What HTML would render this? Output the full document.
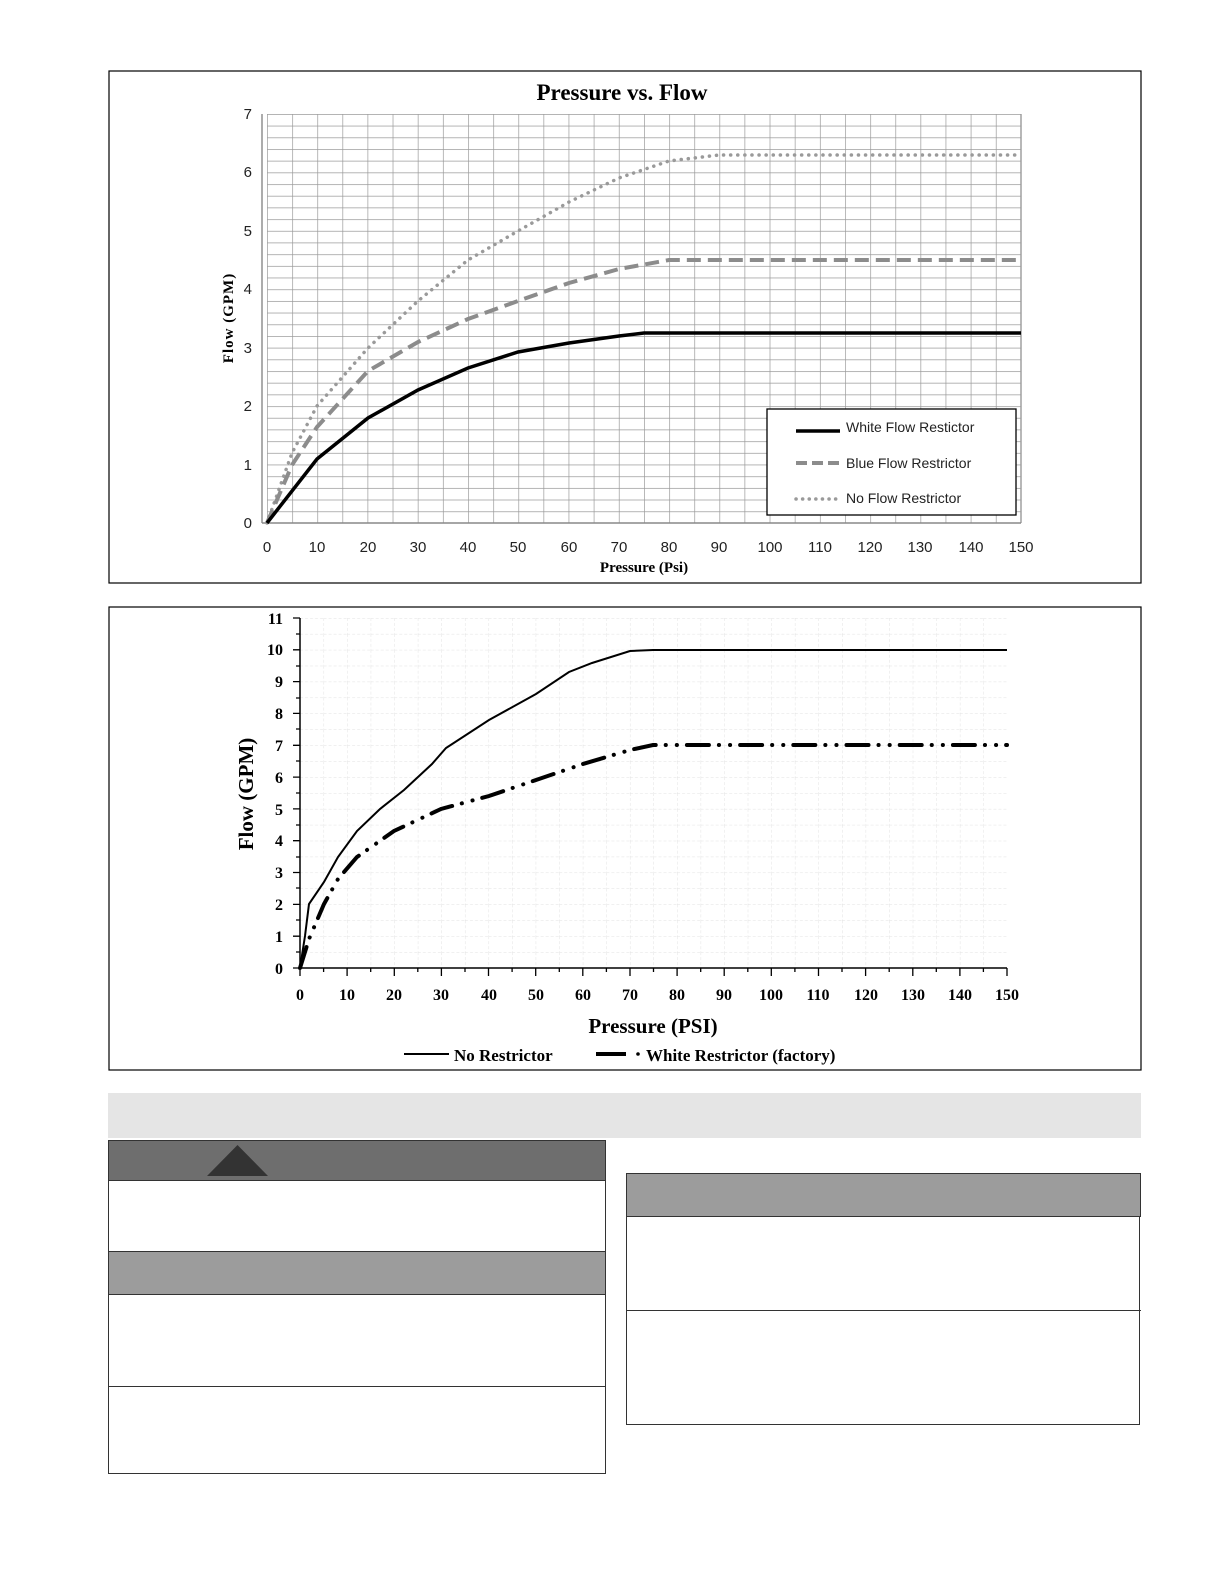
<!DOCTYPE html>
<html style="overflow:hidden"><head><style>
html,body{margin:0;padding:0;overflow:hidden}
body{background:#fff;width:1224px;height:1584px;position:relative;font-family:"Liberation Serif",serif}
svg{display:block}
</style></head><body>
<svg width="1224" height="1584" style="position:absolute;left:0;top:0">
<defs>
<pattern id="g1" patternUnits="userSpaceOnUse" x="267" y="114" width="25.133" height="11.686">
<path d="M0 0V11.686M0 0H25.133" stroke="#9a9a9a" stroke-width="1.4" fill="none"/>
</pattern>
<pattern id="g2" patternUnits="userSpaceOnUse" x="300" y="618" width="23.567" height="15.91">
<path d="M0 0V15.91M0 0H23.567" stroke="#e2e2e2" stroke-width="1" stroke-dasharray="3,2" fill="none"/>
</pattern>
</defs>
<rect x="109" y="71" width="1032" height="512" fill="#fff" stroke="#000" stroke-width="1.2"/>
<rect x="267" y="114" width="754" height="409" fill="url(#g1)"/>
<line x1="1021" y1="114" x2="1021" y2="523" stroke="#9a9a9a" stroke-width="1.4"/>
<line x1="262" y1="523" x2="1021" y2="523" stroke="#888" stroke-width="1.4"/>
<line x1="262" y1="114" x2="262" y2="523" stroke="#888" stroke-width="1.4"/>
<text x="622" y="100" font-size="23" font-weight="bold" text-anchor="middle">Pressure vs. Flow</text>
<g font-family="Liberation Sans,sans-serif" font-size="15" fill="#222" text-anchor="end">
<text x="252" y="528">0</text><text x="252" y="470">1</text><text x="252" y="411">2</text><text x="252" y="353">3</text><text x="252" y="294">4</text><text x="252" y="236">5</text><text x="252" y="177">6</text><text x="252" y="119">7</text>
</g>
<g font-family="Liberation Sans,sans-serif" font-size="15" fill="#222" text-anchor="middle">
<text x="267" y="552">0</text><text x="317" y="552">10</text><text x="368" y="552">20</text><text x="418" y="552">30</text><text x="468" y="552">40</text><text x="518" y="552">50</text><text x="569" y="552">60</text><text x="619" y="552">70</text><text x="669" y="552">80</text><text x="719" y="552">90</text><text x="770" y="552">100</text><text x="820" y="552">110</text><text x="870" y="552">120</text><text x="920" y="552">130</text><text x="971" y="552">140</text><text x="1021" y="552">150</text>
</g>
<text x="644" y="572" font-size="15" font-weight="bold" text-anchor="middle">Pressure (Psi)</text>
<text transform="translate(233,318) rotate(-90)" font-size="15" font-weight="bold" text-anchor="middle" letter-spacing="1">Flow (GPM)</text>
<polyline fill="none" stroke="#9a9a9a" stroke-width="3.5" stroke-dasharray="0.1,7" stroke-linecap="round" points="267,523 292,453 317,406 368,348 418,301 468,260 518,231 569,202 619,178 669,161 719,155 1021,155"/>
<polyline fill="none" stroke="#8c8c8c" stroke-width="4" stroke-dasharray="14,7" points="267,523 292,465 317,427 368,371 418,342 468,319 518,301 569,283 619,269 669,260 1021,260"/>
<polyline fill="none" stroke="#000" stroke-width="3.5" points="267,523 317,459 368,418 418,390 468,368 518,352 569,343 619,336 644,333 1021,333"/>
<rect x="767" y="409" width="249" height="106" fill="#fff" stroke="#000" stroke-width="1.3"/>
<line x1="796" y1="431" x2="840" y2="431" stroke="#000" stroke-width="3.5"/>
<line x1="796" y1="463" x2="840" y2="463" stroke="#8c8c8c" stroke-width="4" stroke-dasharray="11,5"/>
<line x1="796" y1="499" x2="840" y2="499" stroke="#9a9a9a" stroke-width="3.5" stroke-dasharray="0.1,6.5" stroke-linecap="round"/>
<g font-family="Liberation Sans,sans-serif" font-size="14" fill="#222">
<text x="846" y="432">White Flow Restictor</text><text x="846" y="468">Blue Flow Restrictor</text><text x="846" y="503">No Flow Restrictor</text>
</g>
<rect x="109" y="607" width="1032" height="463" fill="#fff" stroke="#000" stroke-width="1.2"/>
<rect x="300" y="618" width="707" height="350" fill="url(#g2)"/>
<line x1="300" y1="618" x2="300" y2="968" stroke="#000" stroke-width="1.5"/>
<line x1="300" y1="968" x2="1007" y2="968" stroke="#000" stroke-width="1.5"/>
<g stroke="#000" stroke-width="1.3">
<path d="M293 968H300M293 936.2H300M293 904.4H300M293 872.5H300M293 840.7H300M293 808.9H300M293 777.1H300M293 745.3H300M293 713.4H300M293 681.6H300M293 649.8H300M293 618H300"/>
<path d="M296 952H300M296 920H300M296 888H300M296 857H300M296 825H300M296 793H300M296 761H300M296 729H300M296 698H300M296 666H300M296 634H300"/>
<path d="M300 968v8M347.1 968v8M394.3 968v8M441.4 968v8M488.5 968v8M535.7 968v8M582.8 968v8M630 968v8M677.1 968v8M724.2 968v8M771.3 968v8M818.5 968v8M865.6 968v8M912.8 968v8M959.9 968v8M1007 968v8"/>
<path d="M323.6 968v4M370.7 968v4M417.8 968v4M465 968v4M512.1 968v4M559.3 968v4M606.4 968v4M653.5 968v4M700.7 968v4M747.8 968v4M794.9 968v4M842 968v4M889.2 968v4M936.3 968v4M983.4 968v4"/>
</g>
<g font-size="16" font-weight="bold" text-anchor="end">
<text x="283" y="974">0</text><text x="283" y="942">1</text><text x="283" y="910">2</text><text x="283" y="878">3</text><text x="283" y="846">4</text><text x="283" y="815">5</text><text x="283" y="783">6</text><text x="283" y="751">7</text><text x="283" y="719">8</text><text x="283" y="687">9</text><text x="283" y="655">10</text><text x="283" y="624">11</text>
</g>
<g font-size="16" font-weight="bold" text-anchor="middle">
<text x="300" y="1000">0</text><text x="347" y="1000">10</text><text x="394" y="1000">20</text><text x="441" y="1000">30</text><text x="489" y="1000">40</text><text x="536" y="1000">50</text><text x="583" y="1000">60</text><text x="630" y="1000">70</text><text x="677" y="1000">80</text><text x="724" y="1000">90</text><text x="771" y="1000">100</text><text x="818" y="1000">110</text><text x="866" y="1000">120</text><text x="913" y="1000">130</text><text x="960" y="1000">140</text><text x="1007" y="1000">150</text>
</g>
<text x="653" y="1033" font-size="21" font-weight="bold" text-anchor="middle">Pressure (PSI)</text>
<text transform="translate(253,794) rotate(-90)" font-size="21" font-weight="bold" text-anchor="middle">Flow (GPM)</text>
<polyline fill="none" stroke="#000" stroke-width="2" points="300,968 305,936 309,904 324,882 338,857 357,831 380,809 404,790 432,764 446,748 489,720 536,694 569,672 592,663 630,651 653,650 1007,650"/>
<polyline fill="none" stroke="#000" stroke-width="4" stroke-dasharray="22,10,0.1,11,0.1,10" stroke-linecap="round" points="300,968 309,939 324,904 338,879 357,857 394,831 441,809 489,796 536,780 583,764 630,750 653,745 677,745 1007,745"/>
<line x1="404" y1="1054" x2="449" y2="1054" stroke="#000" stroke-width="2"/>
<line x1="596" y1="1054" x2="626" y2="1054" stroke="#000" stroke-width="4"/>
<circle cx="638" cy="1054" r="1.8"/>
<g font-size="17" font-weight="bold"><text x="454" y="1061">No Restrictor</text><text x="646" y="1061">White Restrictor (factory)</text></g>
<rect x="108" y="1093" width="1033" height="45" fill="#e5e5e5"/>
<rect x="108.5" y="1140.5" width="497" height="333" fill="#fff" stroke="#333"/>
<rect x="108.5" y="1140.5" width="497" height="40" fill="#6e6e6e" stroke="#333"/>
<polygon points="207,1176 268,1176 237.5,1145" fill="#333"/>
<rect x="108.5" y="1251.5" width="497" height="43" fill="#9c9c9c" stroke="#333"/>
<line x1="108" y1="1386.5" x2="606" y2="1386.5" stroke="#333"/>
<rect x="626.5" y="1173.5" width="513" height="251" fill="#fff" stroke="#333"/>
<rect x="626.5" y="1173.5" width="514" height="43" fill="#9c9c9c" stroke="#333"/>
<line x1="626" y1="1310.5" x2="1141" y2="1310.5" stroke="#333"/>
</svg>
</body></html>
